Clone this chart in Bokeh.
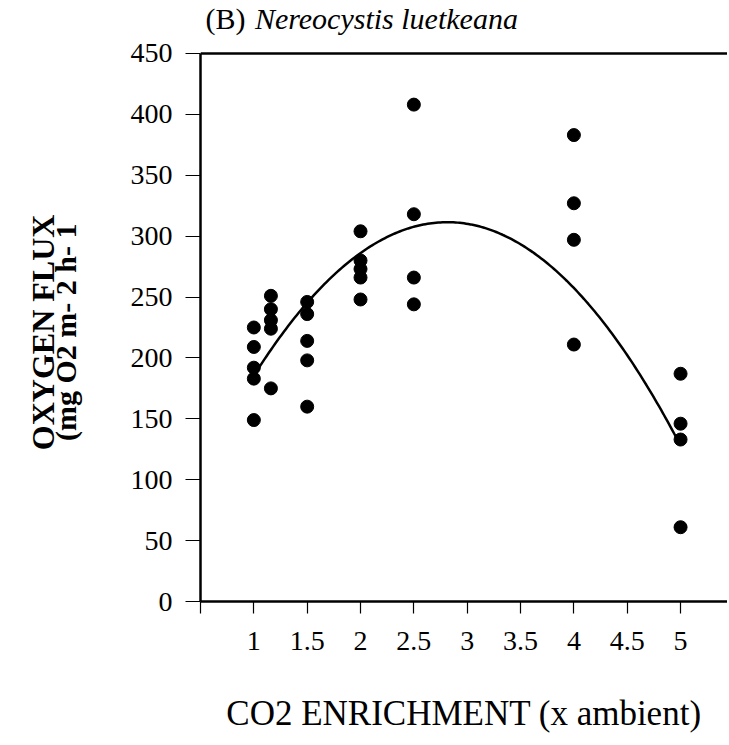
import numpy as np
from bokeh.plotting import figure
from bokeh.layouts import row
from bokeh.models import Range1d, FixedTicker, Span, ColumnDataSource
from bokeh.core.properties import value
from bokeh.embed import file_html
from bokeh.resources import INLINE

# ---- data ----
co2_x = [1, 1, 1, 1, 1,
         1.16, 1.16, 1.16, 1.16, 1.16,
         1.5, 1.5, 1.5, 1.5, 1.5,
         2, 2, 2, 2, 2,
         2.5, 2.5, 2.5, 2.5,
         4, 4, 4, 4,
         5, 5, 5, 5]
oxygen_flux = [225, 209, 192, 183, 149,
               251, 240, 231, 224, 175,
               246, 236, 214, 198, 160,
               304, 280, 273, 266, 248,
               408, 318, 266, 244,
               383, 327, 297, 211,
               187, 146, 133, 61]
fit_coeffs = [-38.36, 215.8, 7.96]   # quadratic fit drawn in the reference
fit_x_span = [1.0, 5.0]
x_ticks = [0.5, 1, 1.5, 2, 2.5, 3, 3.5, 4, 4.5, 5]
y_ticks = [0, 50, 100, 150, 200, 250, 300, 350, 400, 450]
y_axis_top = 450
title_parts = ["(B)", "Nereocystis luetkeana"]
y_label_lines = ["OXYGEN FLUX", "(mg O2 m- 2 h- 1"]
x_label = "CO2 ENRICHMENT (x ambient)"

SERIF = "Liberation Serif"
H = 737
LEFT_W = 100
y_range = Range1d(0, 493.5)

# ---- left strip holding the two-line, rotated y-axis title ----
pl = figure(width=LEFT_W, height=H, output_backend="svg", toolbar_location=None,
            x_range=Range1d(0, LEFT_W), y_range=y_range,
            x_axis_location=None, y_axis_location=None, min_border=0,
            min_border_top=0, min_border_bottom=136)
pl.outline_line_color = None
pl.xgrid.visible = False
pl.ygrid.visible = False
pl.text(x=[42], y=[221], text=[y_label_lines[0]], angle=np.pi / 2,
        text_font=value(SERIF), text_font_size="32px", text_font_style="bold",
        text_color="black", text_align="center", text_baseline="middle")
pl.text(x=[65], y=[221], text=[y_label_lines[1]], angle=np.pi / 2,
        text_font=value(SERIF), text_font_size="30px", text_font_style="bold",
        text_color="black", text_align="center", text_baseline="middle")

# ---- main plot (frame extends above the axis top so the title sits inside) ----
p = figure(width=727 - LEFT_W, height=H, output_backend="svg", toolbar_location=None,
           x_range=Range1d(0.5, 5.44), y_range=y_range,
           min_border_left=200 - LEFT_W, min_border_top=0, min_border_bottom=136,
           min_border_right=0)
p.outline_line_color = None
p.xgrid.visible = False
p.ygrid.visible = False
p.background_fill_color = "white"
p.border_fill_color = "white"

fx = np.linspace(fit_x_span[0], fit_x_span[1], 200)
fy = np.polyval(fit_coeffs, fx)
p.line(fx, fy, line_color="black", line_width=2.5)

src = ColumnDataSource(dict(x=co2_x, y=oxygen_flux))
p.scatter("x", "y", source=src, size=13, fill_color="black", line_color="black")

# title: plain "(B)" + italic species name
p.text(x=[0.547], y=[478.5], text=[title_parts[0]], text_font=value(SERIF),
       text_font_size="30px", text_color="black", text_baseline="alphabetic",
       text_align="left")
p.text(x=[1.01], y=[478.5], text=[title_parts[1]], text_font=value(SERIF),
       text_font_size="30px", text_font_style="italic", text_color="black",
       text_baseline="alphabetic", text_align="left")

# top frame line
p.add_layout(Span(location=y_axis_top, dimension="width", line_color="black", line_width=2.5))

for ax in (p.xaxis[0], p.yaxis[0]):
    ax.axis_line_width = 2.5
    ax.axis_line_color = "black"
    ax.major_tick_line_color = "black"
    ax.major_tick_line_width = 1.2
    ax.minor_tick_line_color = None
    ax.major_label_text_font = SERIF
    ax.major_label_text_font_size = "28px"
    ax.major_label_text_color = "black"
    ax.axis_label_text_font = SERIF
    ax.axis_label_text_color = "black"

p.xaxis.ticker = FixedTicker(ticks=x_ticks)
p.xaxis.major_label_overrides = {0.5: ""}
p.xaxis.major_tick_out = 12
p.xaxis.major_tick_in = 0
p.xaxis.major_label_standoff = 18
p.xaxis.axis_label = x_label
p.xaxis.axis_label_text_font_size = "35px"
p.xaxis.axis_label_text_font_style = "normal"
p.xaxis.axis_label_standoff = 41

p.yaxis.ticker = FixedTicker(ticks=y_ticks)
p.yaxis.bounds = (0, y_axis_top)
p.yaxis.major_tick_out = 15
p.yaxis.major_tick_in = 0
p.yaxis.major_label_standoff = 13

layout = row(pl, p, spacing=0)
open("out.html", "w").write(file_html(layout, INLINE))
